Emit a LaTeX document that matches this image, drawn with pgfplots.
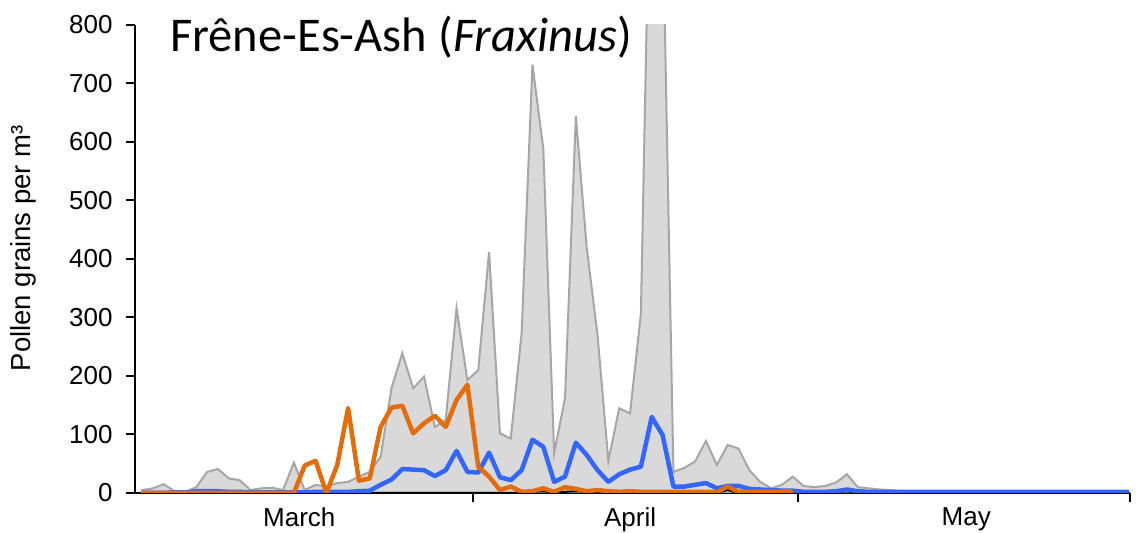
\documentclass[border=0pt]{standalone}
\usepackage{fontspec}
\setmainfont{Liberation Sans}
\newfontfamily\titlefont{Carlito}
\usepackage{pgfplots}
\usepackage{pgfplotstable}
\pgfplotsset{compat=1.18}

\definecolor{areafill}{RGB}{217,217,217}
\definecolor{arealine}{RGB}{166,166,166}
\definecolor{bl}{RGB}{51,102,255}
\definecolor{orng}{RGB}{228,108,10}

\pgfplotstableread{
k gray blue black
0 5 0 0
1 8 0 0
2 15 0 0
3 3 1 0
4 2 1 0
5 10 3 0
6 36 3 0
7 41 3 0
8 25 2 0
9 22 2 0
10 5 1 0
11 8 1 0
12 9 1 0
13 5 1 0
14 52 1 0
15 5 1 0
16 14 2 0
17 11 2 0
18 17 2 0
19 19 2 0
20 28 3 0
21 36 4 0
22 62 14 0
23 179 23 0
24 239 41 0
25 179 40 0
26 199 39 0
27 113 29 0
28 125 39 0
29 316 72 0
30 193 36 0
31 210 35 0
32 412 69 0
33 102 27 0
34 93 22 0
35 273 39 1
36 732 91 2
37 589 79 3
38 68 19 1
39 162 28 2
40 644 86 3
41 420 65 2
42 270 39 1
43 55 19 0
44 145 32 1
45 136 40 1
46 307 45 1
47 1250 130 1
48 1000 99 1
49 36 11 0
50 43 11 0
51 54 14 0
52 89 17 0
53 48 8 0
54 82 12 5
55 76 12 0
56 39 7 0
57 19 6 0
58 8 5 0
59 14 4 0
60 28 4 0
61 12 2 0
62 10 2 0
63 12 2 0
64 18 3 1
65 32 6 3
66 10 3 0
67 8 2 0
68 6 2 0
69 5 2 0
70 3 2 0
71 2 2 0
72 1 2 0
73 0 2 0
74 0 2 0
75 0 2 0
76 0 2 0
77 0 2 0
78 0 2 0
79 0 2 0
80 0 2 0
81 0 2 0
82 0 2 0
83 0 2 0
84 0 2 0
85 0 2 0
86 0 2 0
87 0 2 0
88 0 2 0
89 0 2 0
90 0 2 0
91 0 2 0
}\datamain

\pgfplotstableread{
k orange
0 0
1 0
2 0
3 0
4 0
5 0
6 0
7 0
8 0
9 0
10 0
11 0
12 0
13 0
14 0
15 47
16 55
17 0
18 48
19 145
20 21
21 25
22 113
23 146
24 149
25 102
26 119
27 132
28 113
29 159
30 185
31 45
32 28
33 5
34 11
35 2
36 3
37 8
38 2
39 10
40 7
41 3
42 5
43 3
44 2
45 3
46 2
47 2
48 2
49 2
50 2
51 2
52 2
53 1
54 11
55 2
56 2
57 2
58 2
59 2
60 3
}\dataorange

\begin{document}
\begin{tikzpicture}
\begin{axis}[
  at={(0,0)}, anchor=south west,
  scale only axis, width=995bp, height=468bp,
  xmin=-0.65, xmax=91.1, ymin=0, ymax=800,
  axis lines=left,
  axis line style={-, line width=2.5bp, black},
  xtick={30.5,60.5,91.1}, xticklabels={},
  ytick={0,100,...,800},
  tick align=outside,
  major tick length=9bp,
  tick style={line width=2bp, black},
  extra x ticks={14.5,45,76},
  extra x tick labels={March,April,May},
  extra x tick style={major tick length=0pt, xticklabel style={yshift=-11bp}},
  ticklabel style={font=\fontsize{26bp}{30bp}\selectfont},
  yticklabel style={xshift=-10bp},
  /pgf/number format/assume math mode=true,
  ylabel={Pollen grains per m³},
  ylabel style={font=\fontsize{27.5bp}{32bp}\selectfont, at={(axis description cs:-0.1126,0.523)}, anchor=center},
  clip=true,
]
\addplot[draw=arealine, line width=2bp, fill=areafill] table[x=k, y=gray]{\datamain} \closedcycle;
\addplot[black, line width=2bp] table[x=k, y=black]{\datamain};
\addplot[bl, line width=4.5bp, line join=round] table[x=k, y=blue]{\datamain};
\addplot[orng, line width=4.5bp, line join=round] table[x=k, y=orange]{\dataorange};
\end{axis}
\node[anchor=base west, inner sep=0pt, font=\titlefont\fontsize{48.5bp}{58bp}\selectfont] at (35bp,441bp) {Frêne-Es-Ash (\textit{Fraxinus})};
\pgfresetboundingbox
\path (-135bp,-40bp) rectangle (1004bp,493bp);
\end{tikzpicture}
\end{document}
